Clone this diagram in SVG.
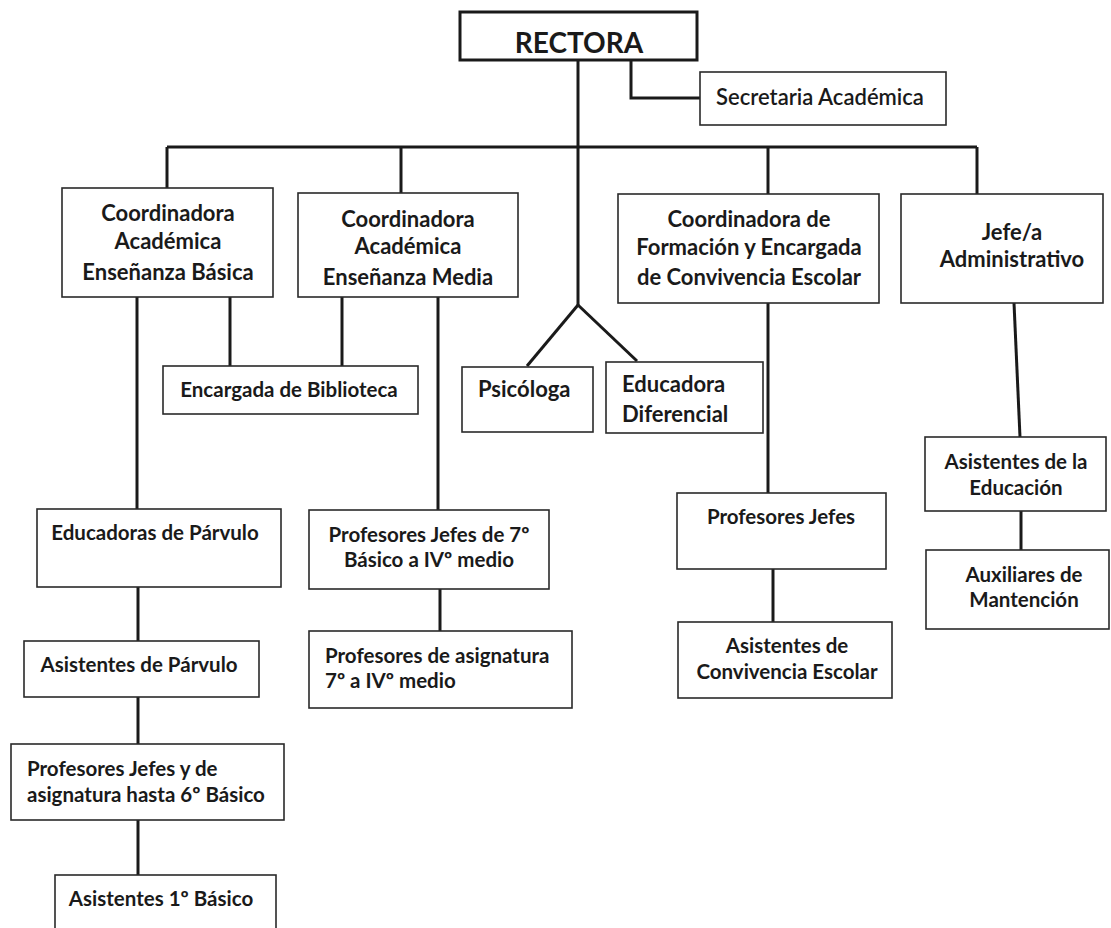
<svg xmlns="http://www.w3.org/2000/svg" width="1111" height="928" viewBox="0 0 1111 928">
<style>
.box{fill:#fff;stroke:#2a2a2a;stroke-width:1.6}
.top{fill:#fff;stroke:#1a1a1a;stroke-width:3}
.t{font-family:Lato,"Open Sans",sans-serif;font-weight:bold;font-size:20.5px;fill:#1a1a1a}
.l{font-size:22px}
.c{text-anchor:middle}
.conn{stroke:#1a1a1a;stroke-width:3;fill:none}
</style>
<rect width="1111" height="928" fill="#fff"/>
<g id="connectors" class="conn">
<path d="M578,60 V305"/>
<path d="M578,305 L527,366"/>
<path d="M578,305 L637,361"/>
<path d="M631,60 V98 H700"/>
<path d="M167,147 H977"/>
<path d="M167,147 V188"/>
<path d="M401,147 V193"/>
<path d="M768,147 V194"/>
<path d="M977,147 V194"/>
<path d="M137,297 V509"/>
<path d="M230,297 V366"/>
<path d="M342,297 V366"/>
<path d="M438,297 V510"/>
<path d="M138,587 V641"/>
<path d="M138,697 V744"/>
<path d="M138,820 V875"/>
<path d="M440,589 V631"/>
<path d="M768,303 V493"/>
<path d="M773,569 V622"/>
<path d="M1014,303 L1020,437"/>
<path d="M1021,511 V550"/>
</g>
<g id="rectora">
<rect class="top" x="460" y="12" width="237" height="48"/>
<text class="t c" x="579" y="53" style="font-size:28px">RECTORA</text>
</g>
<g id="secretaria">
<rect class="box" x="700" y="72" width="246" height="53"/>
<text class="t l c" x="820" y="105" style="font-weight:600">Secretaria Académica</text>
</g>
<g id="coord-basica">
<rect class="box" x="62" y="188" width="211" height="109"/>
<text class="t l c" x="168" y="221">Coordinadora</text>
<text class="t l c" x="168" y="249">Académica</text>
<text class="t l c" x="168" y="280">Enseñanza Básica</text>
</g>
<g id="coord-media">
<rect class="box" x="298" y="193" width="220" height="104"/>
<text class="t l c" x="408" y="227">Coordinadora</text>
<text class="t l c" x="408" y="254">Académica</text>
<text class="t l c" x="408" y="285">Enseñanza Media</text>
</g>
<g id="coord-formacion">
<rect class="box" x="618" y="194" width="261" height="109"/>
<text class="t l c" x="749" y="227">Coordinadora de</text>
<text class="t l c" x="749" y="255">Formación y Encargada</text>
<text class="t l c" x="749" y="285">de Convivencia Escolar</text>
</g>
<g id="jefe-administrativo">
<rect class="box" x="901" y="194" width="202" height="109"/>
<text class="t l c" x="1012" y="240">Jefe/a</text>
<text class="t l c" x="1012" y="267">Administrativo</text>
</g>
<g id="biblioteca">
<rect class="box" x="163" y="366" width="255" height="48"/>
<text class="t c" x="289" y="397">Encargada de Biblioteca</text>
</g>
<g id="psicologa">
<rect class="box" x="462" y="367" width="131" height="65"/>
<text class="t l" x="478" y="397">Psicóloga</text>
</g>
<g id="educadora-diferencial">
<rect class="box" x="606" y="362" width="157" height="71"/>
<text class="t l" x="622" y="392">Educadora</text>
<text class="t l" x="622" y="422">Diferencial</text>
</g>
<g id="educadoras-parvulo">
<rect class="box" x="37" y="509" width="244" height="78"/>
<text class="t c" x="155" y="540">Educadoras de Párvulo</text>
</g>
<g id="asistentes-parvulo">
<rect class="box" x="24" y="641" width="235" height="56"/>
<text class="t c" x="139" y="672">Asistentes de Párvulo</text>
</g>
<g id="profesores-basica">
<rect class="box" x="11" y="744" width="273" height="76"/>
<text class="t" x="27" y="776">Profesores Jefes  y de</text>
<text class="t" x="27" y="802">asignatura hasta 6º Básico</text>
</g>
<g id="asistentes-1basico">
<rect class="box" x="55" y="875" width="221" height="70"/>
<text class="t c" x="161" y="906">Asistentes 1º Básico</text>
</g>
<g id="profesores-jefes-7">
<rect class="box" x="309" y="510" width="240" height="79"/>
<text class="t c" x="429" y="542">Profesores Jefes de 7º</text>
<text class="t c" x="429" y="567">Básico a IVº medio</text>
</g>
<g id="profesores-asignatura">
<rect class="box" x="309" y="631" width="263" height="77"/>
<text class="t" x="325" y="663">Profesores  de asignatura</text>
<text class="t" x="325" y="688">7º a IVº medio</text>
</g>
<g id="profesores-jefes">
<rect class="box" x="677" y="493" width="209" height="76"/>
<text class="t c" x="781" y="524">Profesores Jefes</text>
</g>
<g id="asistentes-convivencia">
<rect class="box" x="678" y="622" width="214" height="76"/>
<text class="t c" x="787" y="653">Asistentes de</text>
<text class="t c" x="787" y="679">Convivencia Escolar</text>
</g>
<g id="asistentes-educacion">
<rect class="box" x="925" y="437" width="181" height="74"/>
<text class="t c" x="1016" y="469">Asistentes de la</text>
<text class="t c" x="1016" y="495">Educación</text>
</g>
<g id="auxiliares">
<rect class="box" x="926" y="550" width="183" height="79"/>
<text class="t c" x="1024" y="582">Auxiliares de</text>
<text class="t c" x="1024" y="607">Mantención</text>
</g>
</svg>
